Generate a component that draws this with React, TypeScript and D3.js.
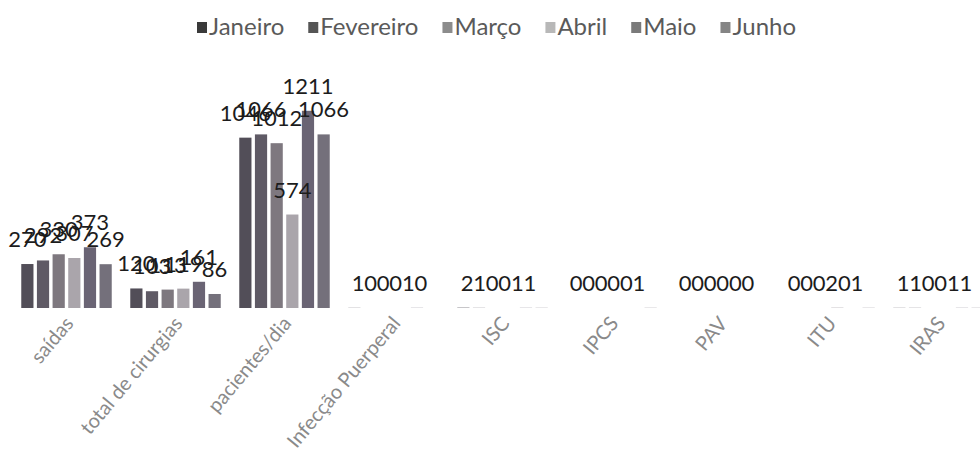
import { useEffect, useRef } from 'react'
import * as d3 from 'd3'

const WIDTH = 980
const HEIGHT = 469

const categories = [
  'saídas',
  'total de cirurgias',
  'pacientes/dia',
  'Infecção Puerperal',
  'ISC',
  'IPCS',
  'PAV',
  'ITU',
  'IRAS',
]
const months = ['Janeiro', 'Fevereiro', 'Março', 'Abril', 'Maio', 'Junho']

// one array per month, in category order
const janeiro = [270, 120, 1046, 1, 2, 0, 0, 0, 1]
const fevereiro = [292, 103, 1066, 0, 1, 0, 0, 0, 1]
const marco = [330, 113, 1012, 0, 0, 0, 0, 0, 0]
const abril = [307, 119, 574, 0, 0, 0, 0, 2, 0]
const maio = [373, 161, 1211, 1, 1, 0, 0, 0, 1]
const junho = [269, 86, 1066, 0, 1, 1, 0, 1, 1]

const series = [janeiro, fevereiro, marco, abril, maio, junho]
const colors = ['#524e58', '#5f5a65', '#7e787f', '#aaa5ab', '#6a6474', '#74707b']
const legendColors = ['#3a3a3a', '#555555', '#8c8c8c', '#b8b8b8', '#7a7a7a', '#858585']

const FONT = 'Lato, "Open Sans", sans-serif'

export default function App() {
  const ref = useRef<SVGSVGElement>(null)

  useEffect(() => {
    const svg = d3.select(ref.current)
    svg.selectAll('*').remove()

    const x = d3.scaleBand<string>().domain(categories).range([12, 993]).paddingInner(0.17).paddingOuter(0.085)
    const xm = d3.scaleBand<string>().domain(months).range([0, x.bandwidth()]).paddingInner(0.22)
    const y = d3.scaleLinear().domain([0, 1400]).range([308, 80])
    const mid = x.bandwidth() / 2

    const groups = svg
      .append('g')
      .selectAll('g')
      .data(categories)
      .join('g')
      .attr('transform', (c) => `translate(${x(c)},0)`)

    months.forEach((m, mi) => {
      groups
        .append('rect')
        .attr('x', xm(m)!)
        .attr('width', xm.bandwidth())
        .attr('y', (_, ci) => y(series[mi][ci]))
        .attr('height', (_, ci) => y(0) - y(series[mi][ci]))
        .attr('fill', colors[mi])
    })

    // labels of the near-zero groups sit closer together, as in the original
    const small = (ci: number) => d3.max(series, (s) => s[ci])! < 10
    months.forEach((m, mi) => {
      groups
        .append('text')
        .attr('x', (_, ci) => {
          const cx = xm(m)! + xm.bandwidth() / 2
          return small(ci) ? mid - 4 + (cx - mid) * 0.8 : cx
        })
        .attr('y', (_, ci) => y(series[mi][ci]) - 17)
        .attr('text-anchor', 'middle')
        .attr('font-family', FONT)
        .attr('font-size', 22)
        .attr('fill', '#1c1c1c')
        .text((_, ci) => series[mi][ci])
    })

    // category labels
    svg
      .append('g')
      .selectAll('text')
      .data(categories)
      .join('text')
      .attr('transform', (c) => `translate(${x(c)! + mid + 8},324) rotate(-50)`)
      .attr('text-anchor', 'end')
      .attr('font-family', FONT)
      .attr('font-size', 20)
      .attr('fill', '#8a8a8a')
      .text((c) => c)

    // legend
    const legend = svg.append('g').attr('transform', 'translate(197,0)')
    let lx = 0
    months.forEach((m, mi) => {
      const item = legend.append('g').attr('transform', `translate(${lx},0)`)
      item.append('rect').attr('x', 0).attr('y', 22).attr('width', 10).attr('height', 11).attr('fill', legendColors[mi])
      const t = item
        .append('text')
        .attr('x', 12)
        .attr('y', 35)
        .attr('font-family', FONT)
        .attr('font-size', 24)
        .attr('fill', '#5a5a5a')
        .text(m)
      const w = (t.node() as SVGTextElement).getComputedTextLength()
      lx += 12 + w + 24
    })
  }, [])

  return (
    <svg
      ref={ref}
      width={WIDTH}
      height={HEIGHT}
      style={{ position: 'absolute', left: 0, top: 0, background: '#ffffff' }}
    />
  )
}
